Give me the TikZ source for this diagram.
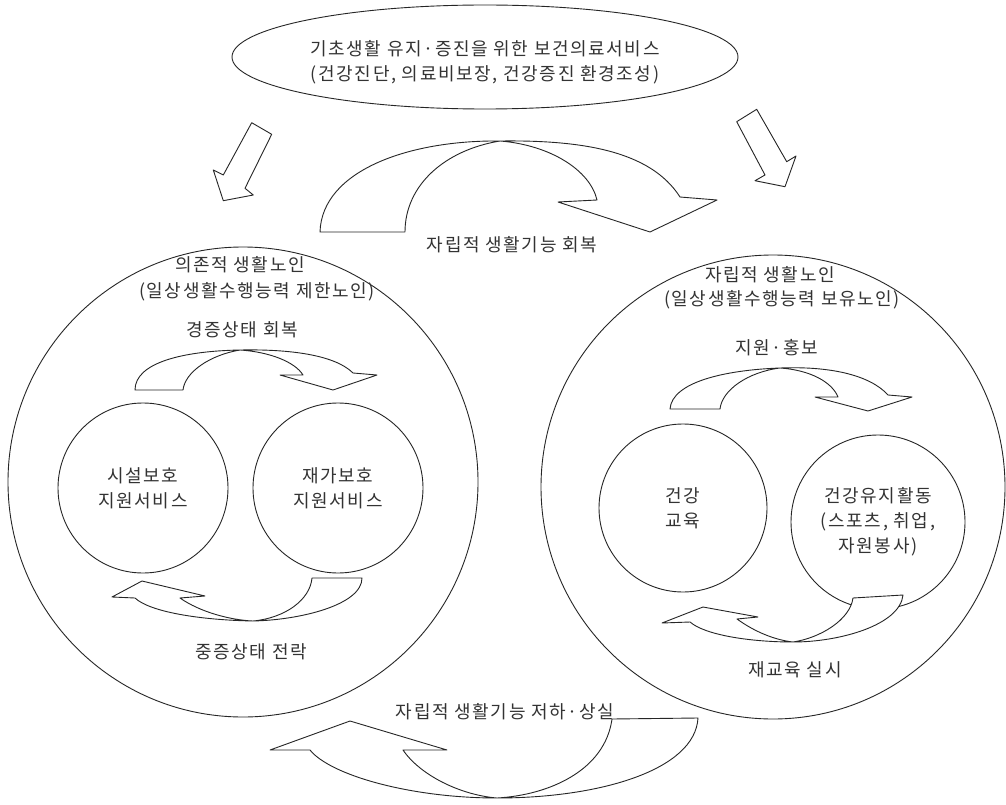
\documentclass[tikz,border=0pt]{standalone}
\usepackage{fontspec}
\newfontfamily\kr[LetterSpace=9]{Noto Sans CJK KR}
\usetikzlibrary{shapes.geometric}
\begin{document}
\begin{tikzpicture}[x=1pt,y=-1pt,
  shp/.style={draw=black!85, line width=0.9pt, line join=round, fill=white},
  lbl/.style={font=\kr\fontsize{18}{25}\selectfont, text=black!80, align=center, inner sep=0pt},
  circ/.style={circle, draw=black!85, line width=0.9pt, minimum size=#1, inner sep=0pt},
  oval/.style={ellipse, draw=black!85, line width=0.9pt, minimum width=506pt, minimum height=104pt, inner sep=0pt}]
\useasboundingbox (0,0) rectangle (1006,805);
\fill[white] (0,0) rectangle (1006,805);

% top ellipse
\node[oval] (top) at (485,57) {};
\node[lbl] (toptxt) at (485,62) {기초생활 유지·증진을 위한 보건의료서비스\\(건강진단, 의료비보장, 건강증진 환경조성)};

% down arrows
\draw[shp] (251.7,122.7) -- (223.3,175) -- (213.3,170) -- (223.3,200.7) -- (253.3,195) -- (245,188.3) -- (271.7,134.3) -- cycle;
\draw[shp] (736.7,121.7) -- (756.7,109.3) -- (786.7,161.7) -- (796,156) -- (785,186.7) -- (755,180.7) -- (765,175) -- cycle;

% big circles
\node[circ=470pt] (L) at (243,482) {};
\node[circ=464pt] (R) at (773,487) {};

% upper big curved arrow
\draw[shp] (320,232) -- (405,232) .. controls (405,185) and (445,150) .. (500,141)
  .. controls (550,145) and (590,170) .. (597,200) -- (558,202) -- (650,232) -- (717,200) -- (680,197)
  .. controls (650,150) and (580,140) .. (500,141) .. controls (410,140) and (322,170) .. (320,232) -- cycle;
\node[lbl] (up) at (512,245) {자립적 생활기능 회복};

% bottom big curved arrow
\draw[shp] (612,719) -- (698,718) .. controls (695,770) and (600,798) .. (497,798)
  .. controls (410,798) and (330,775) .. (310,750) -- (270,750) -- (350,721) -- (447,750) -- (403,750)
  .. controls (420,775) and (460,795) .. (497,798) .. controls (550,795) and (605,770) .. (612,719) -- cycle;
\node[lbl] (down) at (505,712) {자립적 생활기능 저하·상실};

% left group
\node[lbl] (Lt1) at (240,265) {의존적 생활노인};
\node[lbl] (Lt2) at (257,292) {(일상생활수행능력 제한노인)};
\node[lbl] (Lup) at (242,330) {경증상태 회복};
\node[circ=170pt] (L1) at (143,488) {};
\node[lbl] at (L1) {시설보호\\지원서비스};
\node[circ=170pt] (L2) at (338,488) {};
\node[lbl] at (L2) {재가보호\\지원서비스};
\node[lbl] (Ldn) at (251,652) {중증상태 전락};
\draw[shp] (135,390) -- (183,390) .. controls (185,372) and (210,355) .. (240,350)
  .. controls (270,352) and (295,362) .. (303,375) -- (280,375) -- (333,390) -- (377,375) -- (353,373)
  .. controls (335,355) and (290,349) .. (240,350) .. controls (185,351) and (135,362) .. (135,390) -- cycle;
\draw[shp] (312,578) -- (362,578) .. controls (362,605) and (300,620) .. (253,621)
  .. controls (200,620) and (150,612) .. (135,598) -- (112,597) -- (142,581) -- (205,596) -- (180,598)
  .. controls (200,612) and (230,620) .. (253,621) .. controls (285,618) and (310,600) .. (312,578) -- cycle;

% right group
\node[lbl] (Rt1) at (770,275) {자립적 생활노인};
\node[lbl] (Rt2) at (782,300) {(일상생활수행능력 보유노인)};
\node[lbl] (Rup) at (777,348) {지원·홍보};
\node[circ=168pt] (R1) at (683,508) {};
\node[lbl] at (R1) {건강\\교육};
\node[circ=174pt] (R2) at (878,522) {};
\node[lbl] at (R2) {건강유지활동\\(스포츠, 취업,\\자원봉사)};
\node[lbl] (Rdn) at (795,670) {재교육 실시};
\draw[shp] (670,409) -- (720,409) .. controls (722,390) and (748,372) .. (780,368)
  .. controls (810,370) and (832,382) .. (838,397) -- (815,397) -- (868,411) -- (912,397) -- (888,395)
  .. controls (870,375) and (830,366) .. (780,368) .. controls (725,370) and (672,382) .. (670,409) -- cycle;
\draw[shp] (853,598) -- (903,595) .. controls (900,625) and (840,642) .. (793,642)
  .. controls (750,642) and (705,635) .. (690,622) -- (662,623) -- (703,607) -- (758,617) -- (737,619)
  .. controls (755,632) and (775,640) .. (793,642) .. controls (820,638) and (850,620) .. (853,598) -- cycle;
\end{tikzpicture}
\end{document}
